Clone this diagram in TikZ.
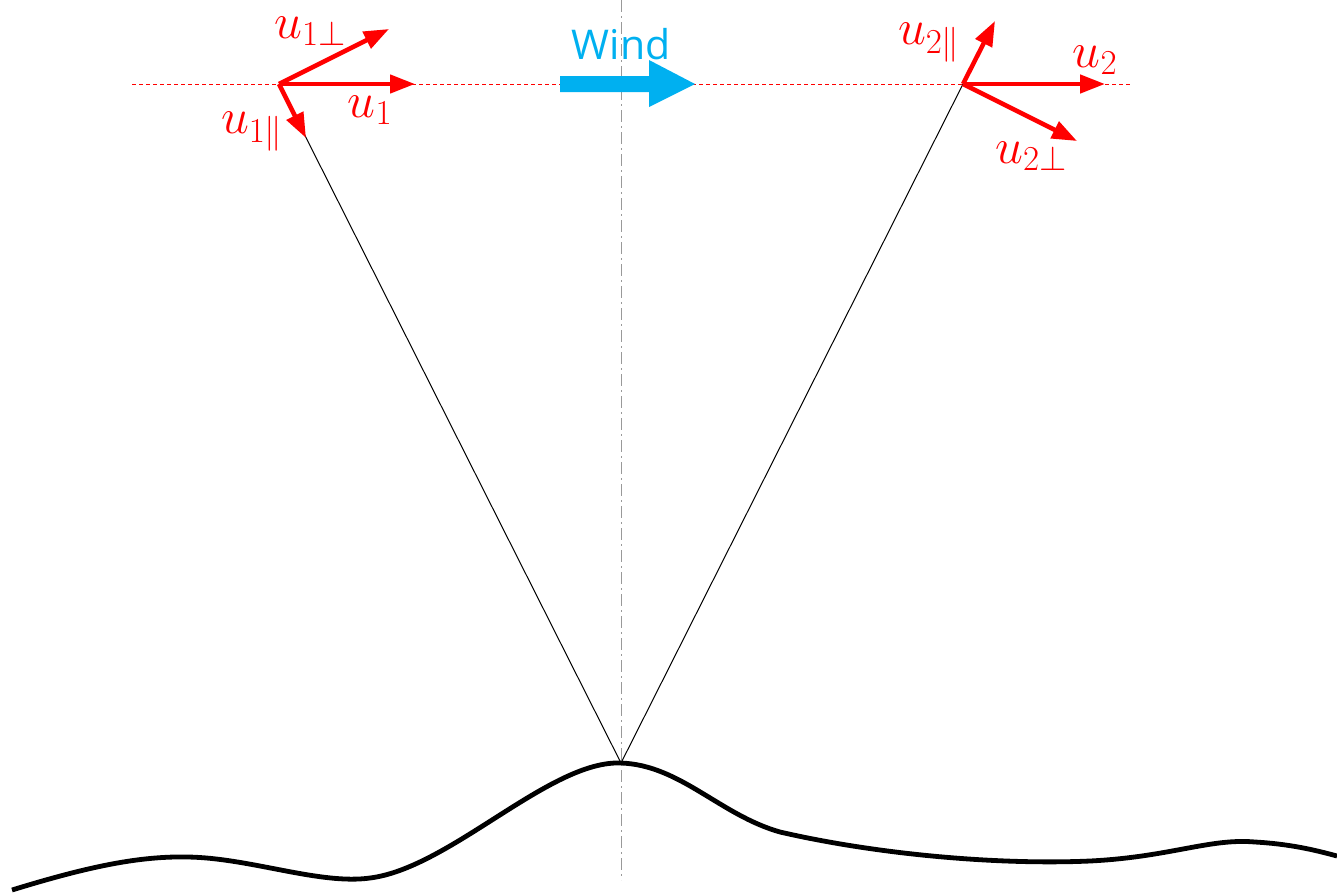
\RequirePackage{fix-cm}
\documentclass[tikz,border=0pt]{standalone}
\usepackage{fontspec}
\newfontfamily\windfont{Open Sans}
\usetikzlibrary{arrows.meta}
\definecolor{windcyan}{RGB}{0,176,240}
\definecolor{vred}{RGB}{255,0,0}
\tikzset{
  vec/.style={draw=vred, line width=4.5pt, -{Triangle[length=25pt,width=18pt]}},
  vlabel/.style={text=vred, inner sep=0pt, font=\fontsize{50}{54}\selectfont},
  guide/.style={draw=vred, line width=0.8pt, dash pattern=on 4pt off 3pt},
  axisline/.style={draw=gray!80, line width=1pt, dash pattern=on 12pt off 4pt on 2pt off 4pt},
  ray/.style={draw=black, line width=1pt},
  ground/.style={draw=black, line width=4.8pt}
}
\begin{document}
\begin{tikzpicture}[x=1pt,y=-1pt]
\useasboundingbox (0,0) rectangle (1337,894);
% coordinates
\coordinate (P1) at (279,84);
\coordinate (P2) at (963,84);
\coordinate (peak) at (621,763);
\coordinate (gL) at (132,84);
\coordinate (gR) at (1132,84);
\coordinate (aT) at (621,0);
\coordinate (aB) at (621,880);
\coordinate (u1e) at (415,84);
\coordinate (u1pe) at (389,29);
\coordinate (u1qe) at (306,138);
\coordinate (u2e) at (1105,84);
\coordinate (u2pe) at (1077,141);
\coordinate (u2qe) at (995,21);
% guide lines
\draw[guide] (gL) -- (gR);
\draw[axisline] (aT) -- (aB);
% rays
\draw[ray] (peak) -- (P1);
\draw[ray] (peak) -- (P2);
% ground
\draw[ground] (12,890) .. controls (90,866) and (140,856) .. (188,857)
  .. controls (250,858) and (320,885) .. (370,878)
  .. controls (450,868) and (550,760) .. (621,763)
  .. controls (680,765) and (720,815) .. (780,832)
  .. controls (880,855) and (1000,865) .. (1090,861)
  .. controls (1170,857) and (1210,838) .. (1255,842)
  .. controls (1290,844) and (1315,850) .. (1337,856);
% wind arrow
\fill[windcyan] (560,76) -- (649,76) -- (649,60) -- (695,84) -- (649,107) -- (649,92) -- (560,92) -- cycle;
\node[text=windcyan, inner sep=0pt, font=\windfont\fontsize{41}{44}\selectfont] (wind) at (621,44) {Wind};
% vectors
\draw[vec] (P1) -- (u1e);
\draw[vec] (P1) -- (u1pe);
\draw[vec] (P1) -- (u1qe);
\draw[vec] (P2) -- (u2e);
\draw[vec] (P2) -- (u2pe);
\draw[vec] (P2) -- (u2qe);
% labels
\node[vlabel] (l1p) at (310,31) {$u_{1\perp}$};
\node[vlabel] (l1) at (370,110) {$u_{1}$};
\node[vlabel] (l1q) at (252,132) {$u_{1\|}$};
\node[vlabel] (l2q) at (929,43) {$u_{2\|}$};
\node[vlabel] (l2) at (1095,60) {$u_{2}$};
\node[vlabel] (l2p) at (1031,156) {$u_{2\perp}$};
\end{tikzpicture}
\end{document}
